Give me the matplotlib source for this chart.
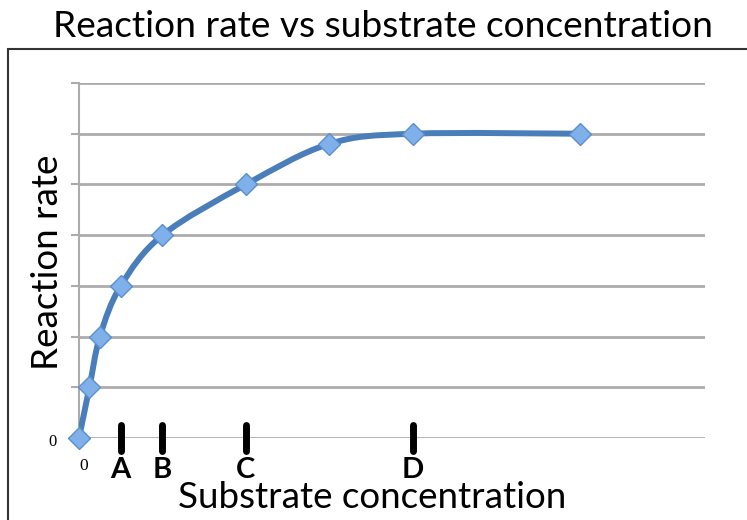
import matplotlib
matplotlib.use("Agg")
import matplotlib.pyplot as plt
import matplotlib.patches as patches
from matplotlib.path import Path
import numpy as np

# data
conc = [0, 0.25, 0.5, 1, 2, 4, 6, 8, 12]
rate = [0, 1, 2, 3, 4, 5, 5.8, 6, 6]
mark_pos = [1, 2, 4, 8]
mark_names = ["A", "B", "C", "D"]
title = "Reaction rate vs substrate concentration"
xlabel = "Substrate concentration"
ylabel = "Reaction rate"

LINE = "#4a7ebb"
GRID = "#acacac"
SANS = "Lato"

W, H = 747, 520
fig = plt.figure(figsize=(W / 100, H / 100), dpi=100)
ax = fig.add_axes([79 / W, 1 - 438 / H, 626 / W, 355 / H])
ax.set_xlim(0, 15)
ax.set_ylim(0, 7)

# horizontal gridlines + y axis
for y in range(0, 8):
    ax.axhline(y, color=GRID, lw=2, zorder=1)
ax.spines[["top", "right", "bottom"]].set_visible(False)
ax.spines["left"].set_color(GRID)
ax.spines["left"].set_linewidth(1.5)
ax.set_yticks(range(0, 8))
ax.set_yticklabels([])
ax.tick_params(axis="y", length=6, width=1.5, color=GRID, direction="out")
ax.set_xticks([])

# smoothed line (bezier through the points, like excel does)
pts = np.column_stack([conc, rate]).astype(float)
verts = [pts[0]]
codes = [Path.MOVETO]
n = len(pts)
for i in range(n - 1):
    p0 = pts[max(i - 1, 0)]
    p1 = pts[i]
    p2 = pts[i + 1]
    p3 = pts[min(i + 2, n - 1)]
    verts += [p1 + (p2 - p0) / 6, p2 - (p3 - p1) / 6, p2]
    codes += [Path.CURVE4] * 3
curve = patches.PathPatch(Path(verts, codes), fill=False, edgecolor=LINE,
                          lw=4.3, capstyle="round", joinstyle="round", zorder=3)
ax.add_patch(curve)
ax.plot(conc, rate, ls="none", marker="D", ms=11, mfc="#80b0ea",
        mec="#5a8fd0", mew=1, zorder=4, clip_on=False)

# A-D markers on the x axis
vl = ax.vlines(mark_pos, -0.26, 0.26, colors="black", lw=5, zorder=5,
               clip_on=False)
vl.set_capstyle("round")
for xp, name in zip(mark_pos, mark_names):
    ax.text(xp, -0.79, name, ha="center", va="baseline", fontsize=21,
            fontweight="bold", family=SANS, clip_on=False)

# zero labels
fig.text(53 / W, 1 - 442 / H, "0", ha="center", va="center", fontsize=12,
         family="Liberation Serif")
fig.text(84 / W, 1 - 466 / H, "0", ha="center", va="center", fontsize=12.5,
         family="Liberation Serif")

fig.text(372 / W, 1 - 508 / H, xlabel, ha="center", va="baseline",
         fontsize=26.5, family=SANS)
fig.text(58 / W, 1 - 262 / H, ylabel, ha="center", va="baseline",
         fontsize=26.5, family=SANS, rotation=90, rotation_mode="anchor")
fig.text(383 / W, 1 - 37 / H, title, ha="center", va="baseline",
         fontsize=26.7, family=SANS)

# chart border (runs off the right and bottom edges)
fig.patches.append(patches.Rectangle((8 / W, -0.1), 2, 1.1 - 49 / H,
                                     transform=fig.transFigure, fill=False,
                                     edgecolor="#333333", lw=1.5))

fig.savefig("out.png", dpi=100)
